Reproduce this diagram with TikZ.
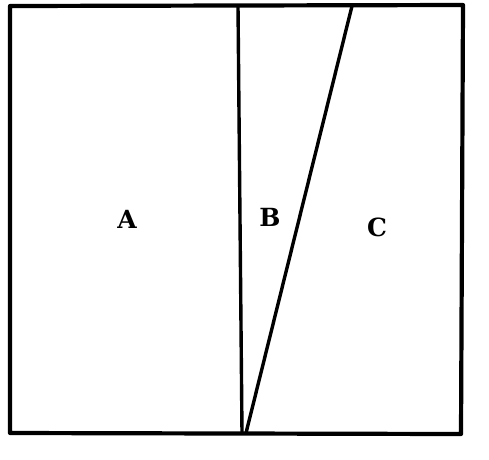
\documentclass[tikz,border=0pt]{standalone}
\usepackage{fontspec}
\newfontfamily\labelfont{DejaVu Serif}
\begin{document}
\begin{tikzpicture}[x=1pt,y=-1pt,
  edge/.style={line width=4.2pt,line cap=round,line join=round},
  inner/.style={line width=3.4pt},
  lbl/.style={font=\labelfont\fontsize{25}{27}\selectfont\bfseries,inner sep=0pt}]
\useasboundingbox (0,0) rectangle (489,459);
\coordinate (tl) at (10,6);
\coordinate (tr) at (463,5);
\coordinate (br) at (461,434);
\coordinate (bl) at (10,433);
\coordinate (vt) at (238,6);
\coordinate (vb) at (242,433);
\coordinate (dt) at (352,6);
\coordinate (db) at (246,433);
\draw[edge] (tl) -- (tr) -- (br) -- (bl) -- cycle;
\draw[inner] (vt) -- (vb);
\draw[inner] (dt) -- (db);
\node[lbl] (A) at (127,219) {A};
\node[lbl] (B) at (270,217) {B};
\node[lbl] (C) at (377,227) {C};
\end{tikzpicture}
\end{document}
